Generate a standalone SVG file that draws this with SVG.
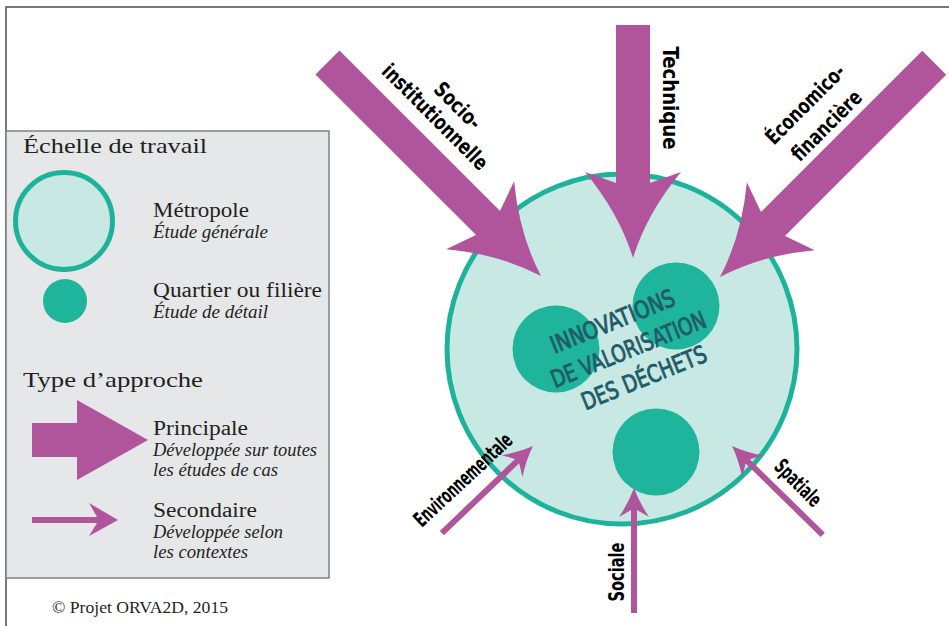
<svg xmlns="http://www.w3.org/2000/svg" width="949" height="626" viewBox="0 0 949 626">
<style>
.bg{fill:#ffffff}
.frame{fill:none;stroke:#4d4d4d;stroke-width:1.5}
.legend{fill:#e6e7e8;stroke:#808080;stroke-width:1.5}
.arrow{fill:#b0559b}
.big{fill:#c8e8e3;stroke:#1db39b;stroke-width:5}
.small{fill:#1fb59c}
.lh{font-family:"Liberation Serif",serif;font-size:22px;fill:#231f20}
.ll{font-family:"Liberation Serif",serif;font-size:20px;fill:#231f20}
.li{font-family:"Liberation Serif",serif;font-size:18px;font-style:italic;fill:#231f20}
.lab{font-family:"DejaVu Sans Condensed","DejaVu Sans",sans-serif;font-weight:bold;font-size:21px;fill:#000;text-anchor:middle}
.ctr{font-family:"DejaVu Sans Condensed","DejaVu Sans",sans-serif;font-size:24px;fill:#1f5c68;stroke:#1f5c68;stroke-width:0.9;text-anchor:middle}
</style>
<defs>
<path id="bigHead" d="M0,0 Q-45,-14 -86,-48 L-75,-17 L-75,17 L-86,48 Q-45,14 0,0 Z"/>
</defs>
<rect class="bg" x="0" y="0" width="949" height="626"/>
<path class="frame" d="M6,626 V7 H949"/>

<g id="legend">
<rect class="legend" x="6" y="131" width="323" height="447"/>
<text class="lh" x="23" y="153" textLength="184" lengthAdjust="spacingAndGlyphs">Échelle de travail</text>
<circle cx="64" cy="221" r="48.5" class="big"/>
<text class="ll" x="153" y="217" textLength="96" lengthAdjust="spacingAndGlyphs">Métropole</text>
<text class="li" x="153" y="238" textLength="115" lengthAdjust="spacingAndGlyphs">Étude générale</text>
<circle cx="65" cy="301" r="22" class="small"/>
<text class="ll" x="153" y="297" textLength="169" lengthAdjust="spacingAndGlyphs">Quartier ou filière</text>
<text class="li" x="153" y="318" textLength="115" lengthAdjust="spacingAndGlyphs">Étude de détail</text>
<text class="lh" x="23" y="387" textLength="180" lengthAdjust="spacingAndGlyphs">Type d’approche</text>
<polygon class="arrow" points="32,423 77,423 77,400 148,440 77,480 77,457 32,457"/>
<text class="ll" x="153" y="435" textLength="95" lengthAdjust="spacingAndGlyphs">Principale</text>
<text class="li" x="153" y="456" textLength="164" lengthAdjust="spacingAndGlyphs">Développée sur toutes</text>
<text class="li" x="153" y="476" textLength="125" lengthAdjust="spacingAndGlyphs">les études de cas</text>
<polygon class="arrow" points="32,517 97,517 89,503 118,520 89,536 97,523 32,523"/>
<text class="ll" x="153" y="517" textLength="104" lengthAdjust="spacingAndGlyphs">Secondaire</text>
<text class="li" x="153" y="538" textLength="130" lengthAdjust="spacingAndGlyphs">Développée selon</text>
<text class="li" x="153" y="558" textLength="95" lengthAdjust="spacingAndGlyphs">les contextes</text>
</g>
<text id="copyright" class="ll" x="52" y="613" style="font-size:17px" textLength="176" lengthAdjust="spacingAndGlyphs">© Projet ORVA2D, 2015</text>

<g id="metropole">
<circle cx="622" cy="349" r="175" class="big"/>
</g>
<g id="quartier1"><circle cx="556" cy="349" r="43.5" class="small"/></g>
<g id="quartier2"><circle cx="676" cy="306" r="43.5" class="small"/></g>
<g id="quartier3"><circle cx="656" cy="452" r="43.5" class="small"/></g>
<g id="center-label" transform="translate(628,349) rotate(-22)">
<text class="ctr" x="-4" y="-23" textLength="132" lengthAdjust="spacingAndGlyphs">INNOVATIONS</text>
<text class="ctr" x="0" y="9" textLength="165" lengthAdjust="spacingAndGlyphs">DE VALORISATION</text>
<text class="ctr" x="4" y="41" textLength="133" lengthAdjust="spacingAndGlyphs">DES DÉCHETS</text>
</g>

<g id="connectors">
<g id="socio" transform="translate(541,276) rotate(45)">
<rect class="arrow" x="-302" y="-17" width="230" height="34"/>
<use href="#bigHead" class="arrow"/>
</g>
<g id="technique" transform="translate(633,258) rotate(90)">
<rect class="arrow" x="-233" y="-17" width="161" height="34"/>
<use href="#bigHead" class="arrow"/>
</g>
<g id="economico" transform="translate(720,277) rotate(135)">
<rect class="arrow" x="-303" y="-17" width="231" height="34"/>
<use href="#bigHead" class="arrow"/>
</g>
<g id="environnementale" transform="translate(533,446) rotate(-43.7)">
<path class="arrow" d="M0,0 Q-14,-5 -29,-15 L-22,-3 L-126,-3 L-126,3 L-22,3 L-29,15 Q-14,5 0,0 Z"/>
</g>
<g id="sociale" transform="translate(634,488) rotate(-90)">
<path class="arrow" d="M0,0 Q-14,-5 -29,-15 L-22,-3 L-125,-3 L-125,3 L-22,3 L-29,15 Q-14,5 0,0 Z"/>
</g>
<g id="spatiale" transform="translate(732,446) rotate(-135.6)">
<path class="arrow" d="M0,0 Q-14,-5 -29,-15 L-22,-3 L-127,-3 L-127,3 L-22,3 L-29,15 Q-14,5 0,0 Z"/>
</g>
</g>

<g id="labels">
<g transform="translate(435,117) rotate(45)">
<text class="lab" x="8" y="-17" textLength="57" lengthAdjust="spacingAndGlyphs">Socio-</text>
<text class="lab" x="0" y="7" textLength="140" lengthAdjust="spacingAndGlyphs">institutionnelle</text>
</g>
<g transform="translate(670,98) rotate(90)">
<text class="lab" x="0" y="7" textLength="103" lengthAdjust="spacingAndGlyphs">Technique</text>
</g>
<g transform="translate(816,115) rotate(-45)">
<text class="lab" x="0" y="-8" textLength="103" lengthAdjust="spacingAndGlyphs">Économico-</text>
<text class="lab" x="0" y="22" textLength="90" lengthAdjust="spacingAndGlyphs">financière</text>
</g>
<g transform="translate(463,480) rotate(-43)">
<text class="lab" x="0" y="7" textLength="126" lengthAdjust="spacingAndGlyphs">Environnementale</text>
</g>
<g transform="translate(617,572) rotate(-90)">
<text class="lab" x="0" y="7" textLength="59" lengthAdjust="spacingAndGlyphs">Sociale</text>
</g>
<g transform="translate(798,483) rotate(45)">
<text class="lab" x="0" y="7" textLength="57" lengthAdjust="spacingAndGlyphs">Spatiale</text>
</g>
</g>
</svg>
